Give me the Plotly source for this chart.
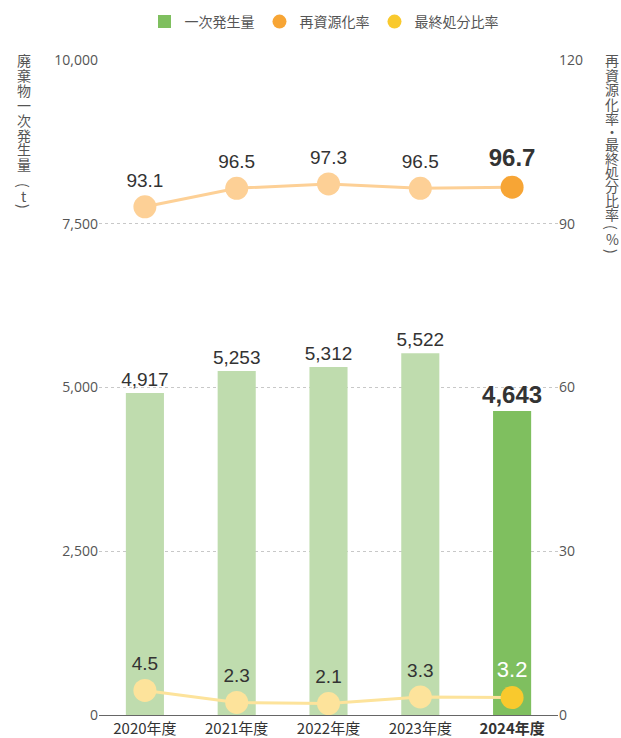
import plotly.graph_objects as go

years = ["2020年度", "2021年度", "2022年度", "2023年度", "2024年度"]
generation = [4917, 5253, 5312, 5522, 4643]
recycle_rate = [93.1, 96.5, 97.3, 96.5, 96.7]
disposal_rate = [4.5, 2.3, 2.1, 3.3, 3.2]
left_ticks = [0, 2500, 5000, 7500, 10000]
right_ticks = [0, 30, 60, 90, 120]
left_title = list("廃棄物一次発生量") + ["(", "t", ")"]
right_title = list("再資源化率・最終処分比率") + ["(", "%", ")"]

bar_colors = ["#bfdcae"] * 4 + ["#7fbf5f"]
rec_colors = ["#fdd096"] * 4 + ["#f7a535"]
dis_colors = ["#fde39b"] * 4 + ["#f9c92d"]

LBL = "Liberation Sans, Arial, sans-serif"
JP = "Noto Sans CJK JP, sans-serif"
TICK = "Open Sans, sans-serif"

def fmt(v, last, comma=False):
    s = f"{v:,}" if comma else f"{v}"
    return f"<b>{s}</b>" if last else s

n = len(years)
fig = go.Figure()

fig.add_trace(go.Bar(
    x=years, y=generation, marker=dict(color=bar_colors, line=dict(width=0)),
    text=[fmt(v, i == n - 1, True) for i, v in enumerate(generation)],
    textposition="outside", cliponaxis=False, constraintext="none",
    textfont=dict(family=LBL, size=[19] * 4 + [24], color="#333"),
    showlegend=False, hoverinfo="skip", yaxis="y"))

fig.add_trace(go.Scatter(
    x=years, y=recycle_rate, mode="lines+markers+text", yaxis="y2",
    line=dict(color="#fdd096", width=3),
    marker=dict(size=23, color=rec_colors, line=dict(width=0)),
    text=[fmt(v, i == n - 1) for i, v in enumerate(recycle_rate)],
    textposition="top center", cliponaxis=False,
    textfont=dict(family=LBL, size=[19] * 4 + [24], color="#333"),
    showlegend=False, hoverinfo="skip"))

fig.add_trace(go.Scatter(
    x=years, y=disposal_rate, mode="lines+markers+text", yaxis="y2",
    line=dict(color="#fde39b", width=3),
    marker=dict(size=23, color=dis_colors, line=dict(width=0)),
    text=[fmt(v, False) for v in disposal_rate],
    textposition="top center", cliponaxis=False,
    textfont=dict(family=LBL, size=[19] * 4 + [22], color=["#333"] * 4 + ["#ffffff"]),
    showlegend=False, hoverinfo="skip"))

# legend-only entries
fig.add_trace(go.Scatter(x=[None], y=[None], mode="markers", name="一次発生量",
                         marker=dict(symbol="square", size=13, color="#7fbf5f")))
fig.add_trace(go.Scatter(x=[None], y=[None], mode="markers", name="再資源化率",
                         marker=dict(symbol="circle", size=14, color="#f7a535")))
fig.add_trace(go.Scatter(x=[None], y=[None], mode="markers", name="最終処分比率",
                         marker=dict(symbol="circle", size=14, color="#f9c92d")))

# target plot area in page pixels (body margin removed by post_script)
PX0, PX1, PY0, PY1 = 99, 558, 60, 715
W, H = 621, 738
L, T = PX0, PY0
R, B = W - PX1, H - PY1
pw, ph = PX1 - PX0, PY1 - PY0

def xp(px):
    return (px - PX0) / pw

def yp(py):
    return (PY1 - py) / ph

ticktext = [y if i < n - 1 else f"<b>{y}</b>" for i, y in enumerate(years)]

annotations = []

def add_title(chars, ys, x):
    for ch, py in zip(chars, ys):
        ang = 90 if ch in "()" else 0
        annotations.append(dict(text=ch, xref="paper", yref="paper", x=xp(x), y=yp(py),
                                xanchor="center", yanchor="middle", showarrow=False,
                                textangle=ang, borderpad=0,
                                font=dict(family=JP, size=14, color="#555")))

add_title(left_title, [60 + 14.9 * i for i in range(8)] + [185, 196, 206], 24)
add_title(right_title, [60, 74.5, 89, 103.5, 118, 131, 144, 158, 172, 186, 200, 214,
                        227, 239, 251], 612)

fig.update_layout(
    width=W, height=H, margin=dict(l=L, r=R, t=T, b=B, autoexpand=False),
    paper_bgcolor="white", plot_bgcolor="white",
    bargap=0.585,
    font=dict(family=JP, color="#555"),
    legend=dict(orientation="h", x=xp(324), xanchor="center",
                y=yp(22), yanchor="middle",
                font=dict(family=JP, size=14, color="#555"),
                itemwidth=30, tracegroupgap=0),
    xaxis=dict(type="category", range=[-0.5, n - 0.5], tickvals=years, ticktext=ticktext,
               showline=True, linecolor="#666", linewidth=1, showgrid=False,
               ticks="", tickfont=dict(family=JP, size=15, color="#333")),
    yaxis=dict(range=[0, 10000], tickvals=left_ticks, tickformat=",",
               showgrid=True, gridcolor="#c8c8c8", griddash="dot", gridwidth=1,
               zeroline=False, showline=False, ticks="",
               tickfont=dict(family=TICK, size=14, color="#555")),
    yaxis2=dict(range=[0, 120], tickvals=right_ticks, overlaying="y", side="right",
                showgrid=False, zeroline=False, showline=False, ticks="",
                tickfont=dict(family=TICK, size=14, color="#555")),
    annotations=annotations,
)

fig.write_html(
    "out.html",
    config={"displayModeBar": False},
    post_script="document.body.style.margin='0';"
                "document.documentElement.style.overflow='hidden';"
                "document.body.style.overflow='hidden';",
)
